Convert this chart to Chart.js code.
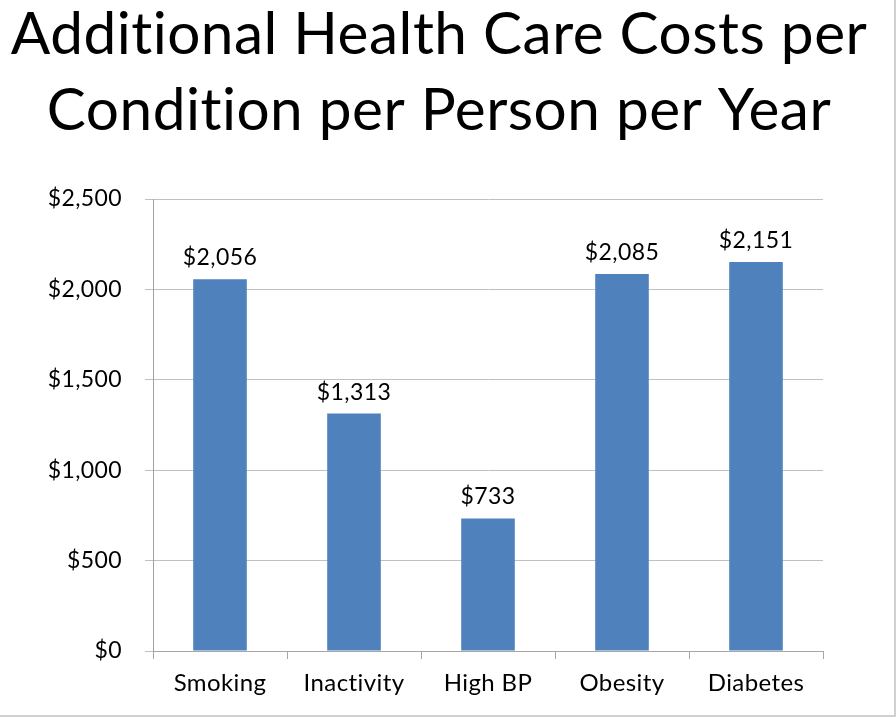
<!DOCTYPE html>
<html>
<head>
<meta charset="utf-8">
<script src="https://cdn.jsdelivr.net/npm/chart.js@4"></script>
<style>
  html, body { margin: 0; padding: 0; background: #fff; }
  #wrap { position: relative; width: 894px; height: 715px; border-right: 2px solid #d0d0d0; border-bottom: 2px solid #d0d0d0; }
  canvas { display: block; }
</style>
</head>
<body>
<div id="wrap"><canvas id="chart" width="894" height="715"></canvas></div>
<script>
// Additional health care costs, per condition per person per year
const categories = ['Smoking', 'Inactivity', 'High BP', 'Obesity', 'Diabetes'];
const costs = [2056, 1313, 733, 2085, 2151];
const titleLines = ['Additional Health Care Costs per', 'Condition per Person per Year'];
const yMax = 2500;
const yStep = 500;

const FONT = 'Lato, "Open Sans", sans-serif';

const money = v => '$' + v.toLocaleString('en-US');

// a touch of letter spacing also breaks the "ti" ligature of Lato
const spacing = {
  id: 'spacing',
  beforeDraw(chart) { chart.ctx.letterSpacing = '0.4px'; }
};

// --- Title (own plugin so it centres on the slide, not the padded box) ---
const slideTitle = {
  id: 'slideTitle',
  afterDraw(chart) {
    const { ctx } = chart;
    ctx.save();
    ctx.letterSpacing = '0.5px';
    ctx.font = '58.5px ' + FONT;
    ctx.fillStyle = '#000';
    ctx.textAlign = 'center';
    ctx.textBaseline = 'alphabetic';
    ctx.fillText(titleLines[0], 439, 54);
    ctx.fillText(titleLines[1], 439, 130);
    ctx.restore();
  }
};

// --- Value labels above bars ---
const barLabels = {
  id: 'barLabels',
  afterDatasetsDraw(chart) {
    const { ctx } = chart;
    const meta = chart.getDatasetMeta(0);
    ctx.save();
    ctx.font = '23px ' + FONT;
    ctx.fillStyle = '#000';
    ctx.textAlign = 'center';
    ctx.textBaseline = 'bottom';
    meta.data.forEach((bar, i) => {
      ctx.fillText(money(costs[i]), bar.x, bar.y - 10);
    });
    ctx.restore();
  }
};

new Chart(document.getElementById('chart').getContext('2d'), {
  type: 'bar',
  data: {
    labels: categories,
    datasets: [{
      data: costs,
      backgroundColor: '#4F81BD',
      borderWidth: 0,
      categoryPercentage: 1,
      barPercentage: 0.4,
    }],
  },
  options: {
    responsive: false,
    animation: false,
    layout: { padding: { left: 0, right: 71, bottom: 0, top: 199 } },
    plugins: {
      legend: { display: false },
      tooltip: { enabled: false },
      title: { display: false },
    },
    scales: {
      x: {
        grid: { drawOnChartArea: false, tickLength: 8, color: '#a6a6a6', offset: true },
        border: { color: '#a6a6a6' },
        ticks: { color: '#000', font: { family: FONT, size: 24 }, padding: 10 },
        afterFit(scale) { scale.height = 64; },
      },
      y: {
        min: 0,
        max: yMax,
        ticks: { stepSize: yStep, color: '#000', font: { family: FONT, size: 23 }, padding: 23, callback: v => money(v) },
        grid: { color: '#c0c0c0', tickLength: 8 },
        border: { color: '#a0a0a0' },
        afterFit(scale) { scale.width = 153; },
      },
    },
  },
  plugins: [spacing, barLabels, slideTitle],
});
</script>
</body>
</html>
